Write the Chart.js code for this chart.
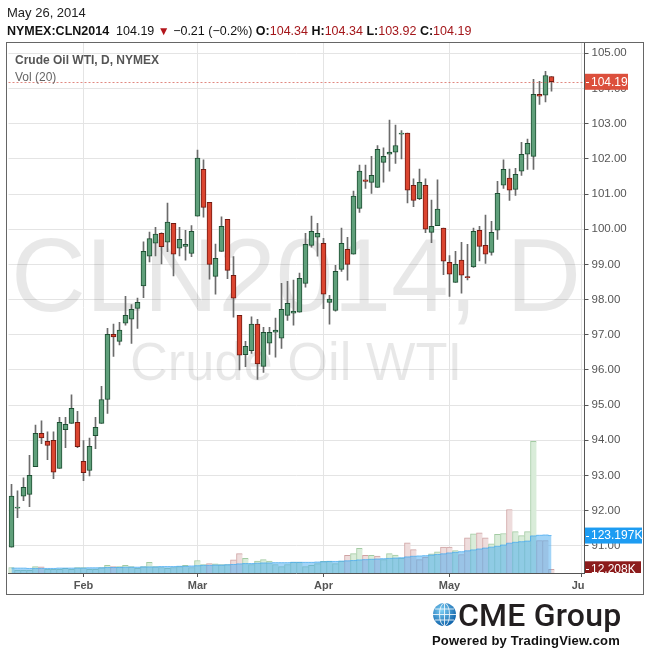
<!DOCTYPE html>
<html>
<head>
<meta charset="utf-8">
<script src="https://cdn.jsdelivr.net/npm/chart.js@4.4.0/dist/chart.umd.min.js"></script>
<style>
  body { margin: 0; background: #fff; font-family: "Liberation Sans", Arial, sans-serif; }
  #wrap { position: relative; width: 650px; height: 652px; overflow: hidden; }
  #chart { position: absolute; left: 0; top: 0; }
  .txt { position: absolute; white-space: nowrap; line-height: 1; }
  #date { left: 7px; top: 6px; font-size: 13px; color: #222; }
  #quote { left: 7px; top: 25px; font-size: 12.5px; color: #111; }
  #quote b { font-weight: bold; }
  #quote .v { color: #a4161a; }
  #quote .dn { color: #b3151b; font-size: 12px; }
  #cme { left: 458px; top: 599px; font-family: Roboto, "Liberation Sans", sans-serif; font-weight: 500; font-size: 32px; color: #231f20; letter-spacing: 0.2px; }
  #powered { left: 432px; top: 634px; font-size: 13px; font-weight: bold; color: #111; letter-spacing: 0.2px; }
  #globe { position: absolute; left: 432px; top: 602px; }
</style>
</head>
<body>
<div id="wrap">
  <canvas id="chart" width="650" height="652"></canvas>
  <div id="date" class="txt">May 26, 2014</div>
  <div id="quote" class="txt"></div>
  <svg id="globe" width="25" height="25" viewBox="0 0 25 25">
    <defs>
      <radialGradient id="gl" cx="38%" cy="32%" r="72%">
        <stop offset="0" stop-color="#7fd0f5"/>
        <stop offset="1" stop-color="#0a5fa8"/>
      </radialGradient>
    </defs>
    <circle cx="12.5" cy="12.5" r="11.5" fill="url(#gl)"/>
    <g stroke="#fff" stroke-width="0.9" fill="none" opacity="0.9">
      <ellipse cx="12.5" cy="12.5" rx="5" ry="11.3"/>
      <line x1="12.5" y1="1" x2="12.5" y2="24"/>
      <line x1="1" y1="12.5" x2="24" y2="12.5"/>
      <line x1="3" y1="7" x2="22" y2="7"/>
      <line x1="3" y1="18" x2="22" y2="18"/>
    </g>
  </svg>
  <div id="cme" class="txt">CME Group</div>
  <div id="powered" class="txt">Powered by TradingView.com</div>
</div>
<script>
// trading days shown on the axis (last five slots are empty future days)
const days = [
  '2014-01-15','2014-01-16','2014-01-17','2014-01-21','2014-01-22','2014-01-23','2014-01-24','2014-01-27','2014-01-28','2014-01-29','2014-01-30','2014-01-31',
  '2014-02-03','2014-02-04','2014-02-05','2014-02-06','2014-02-07','2014-02-10','2014-02-11','2014-02-12','2014-02-13','2014-02-14','2014-02-18','2014-02-19','2014-02-20','2014-02-21','2014-02-24','2014-02-25','2014-02-26','2014-02-27','2014-02-28',
  '2014-03-03','2014-03-04','2014-03-05','2014-03-06','2014-03-07','2014-03-10','2014-03-11','2014-03-12','2014-03-13','2014-03-14','2014-03-17','2014-03-18','2014-03-19','2014-03-20','2014-03-21','2014-03-24','2014-03-25','2014-03-26','2014-03-27','2014-03-28','2014-03-31',
  '2014-04-01','2014-04-02','2014-04-03','2014-04-04','2014-04-07','2014-04-08','2014-04-09','2014-04-10','2014-04-11','2014-04-14','2014-04-15','2014-04-16','2014-04-17','2014-04-21','2014-04-22','2014-04-23','2014-04-24','2014-04-25','2014-04-28','2014-04-29','2014-04-30',
  '2014-05-01','2014-05-02','2014-05-05','2014-05-06','2014-05-07','2014-05-08','2014-05-09','2014-05-12','2014-05-13','2014-05-14','2014-05-15','2014-05-16','2014-05-19','2014-05-20','2014-05-21','2014-05-22','2014-05-23','2014-05-26',
  '2014-05-27','2014-05-28','2014-05-29','2014-05-30','2014-06-02'
];
const monthTicks = { '2014-02-03': 'Feb', '2014-03-03': 'Mar', '2014-04-01': 'Apr', '2014-05-01': 'May', '2014-06-02': 'Jun' };

const opens = [
  90.96, 92.07, 92.41, 92.46, 93.25, 94.20, 93.97, 94.00, 93.20, 94.30,
  94.48, 94.51, 93.40, 93.14, 94.13, 94.48, 95.16, 97.01, 96.81, 97.33,
  97.44, 97.75, 98.39, 99.23, 99.60, 99.88, 99.63, 100.17, 99.46, 99.51,
  99.31, 100.37, 101.70, 100.76, 98.66, 99.37, 100.28, 98.69, 97.55, 96.43,
  96.55, 97.30, 96.10, 96.76, 97.07, 96.90, 97.55, 97.61, 97.64, 98.46,
  99.54, 99.77, 99.60, 97.92, 97.69, 98.86, 99.43, 99.29, 100.59, 101.40,
  101.33, 101.19, 101.90, 102.13, 102.19, 102.70, 102.73, 101.25, 100.87, 101.25,
  99.91, 100.10, 100.03, 99.06, 98.49, 99.12, 98.65, 98.93, 99.97, 99.54,
  99.34, 99.97, 101.25, 101.45, 101.13, 101.65, 102.13, 102.07, 103.83, 103.81,
  104.34
];
const highs = [
  92.75, 92.56, 92.93, 93.57, 94.43, 94.55, 94.24, 94.24, 94.65, 94.65,
  95.29, 94.82, 93.99, 94.06, 94.65, 95.53, 97.18, 97.30, 97.35, 98.09,
  97.86, 98.04, 99.64, 99.92, 100.05, 99.90, 100.74, 100.17, 100.05, 99.97,
  100.10, 102.25, 101.97, 100.76, 99.58, 100.35, 100.28, 99.22, 97.55, 96.81,
  97.51, 97.44, 97.21, 97.21, 97.47, 98.46, 98.52, 98.55, 98.75, 99.88,
  100.37, 100.17, 99.74, 98.12, 98.97, 100.03, 99.77, 101.08, 101.82, 101.82,
  102.07, 102.38, 102.31, 103.10, 102.96, 102.80, 102.73, 101.43, 101.71, 101.43,
  100.83, 101.40, 100.03, 99.25, 99.37, 99.63, 99.57, 100.03, 100.08, 100.40,
  100.22, 101.36, 101.97, 101.71, 101.73, 102.47, 102.56, 104.26, 104.20, 104.49,
  104.34
];
const lows = [
  90.96, 91.80, 92.28, 92.11, 93.25, 93.90, 93.45, 92.91, 93.20, 93.79,
  94.48, 93.79, 92.85, 92.99, 93.76, 94.48, 94.76, 96.38, 96.71, 97.27,
  96.75, 97.18, 98.05, 99.07, 99.24, 99.01, 99.36, 98.67, 99.24, 99.12,
  99.22, 100.37, 100.34, 98.58, 98.15, 99.37, 98.59, 97.50, 96.00, 96.09,
  96.47, 95.73, 95.93, 96.44, 96.36, 96.61, 97.41, 97.27, 97.64, 98.35,
  99.49, 99.23, 97.74, 97.30, 97.67, 98.80, 98.55, 99.29, 100.48, 101.16,
  101.02, 101.19, 101.34, 101.65, 101.87, 102.00, 100.75, 100.64, 100.84, 99.90,
  99.62, 100.10, 98.71, 98.09, 98.49, 98.18, 98.56, 98.91, 99.10, 99.03,
  99.26, 99.71, 101.16, 100.82, 100.96, 101.53, 101.70, 101.70, 103.55, 103.62,
  103.92
];
const closes = [
  92.41, 92.10, 92.66, 93.00, 94.20, 94.07, 93.85, 93.09, 94.51, 94.45,
  94.91, 93.82, 93.08, 93.83, 94.37, 95.16, 97.01, 96.94, 97.13, 97.55,
  97.72, 97.92, 99.37, 99.73, 99.86, 99.50, 100.20, 99.29, 99.71, 99.57,
  99.94, 102.02, 100.62, 99.00, 99.17, 100.08, 98.83, 98.04, 96.42, 96.67,
  97.30, 96.17, 97.07, 97.07, 97.13, 97.72, 97.89, 97.67, 98.60, 99.57,
  99.94, 99.88, 98.15, 98.01, 98.80, 99.60, 99.00, 100.94, 101.65, 101.36,
  101.53, 102.27, 102.07, 102.19, 102.38, 102.73, 101.11, 100.82, 101.33, 100.00,
  100.08, 100.57, 99.09, 98.72, 99.00, 98.69, 98.62, 99.94, 99.51, 99.29,
  99.91, 101.02, 101.70, 101.11, 101.56, 102.13, 102.44, 103.83, 103.78, 104.37,
  104.19
];

// volume in thousands of contracts, and its 20-day average as drawn
const volumes = [
  18, 9, 9, 9, 21, 20, 12, 12, 12, 15,
  12, 18, 18, 12, 12, 18, 25, 21, 21, 25,
  21, 15, 21, 35, 21, 18, 15, 18, 21, 25,
  18, 41, 28, 31, 30, 28, 28, 43, 64, 48,
  28, 39, 44, 39, 28, 21, 28, 36, 36, 21,
  25, 31, 38, 39, 31, 39, 58, 64, 81, 58,
  58, 56, 44, 64, 59, 49, 99, 77, 44, 52,
  63, 70, 85, 85, 74, 61, 116, 129, 132, 116,
  96, 127, 130, 209, 136, 123, 136, 433, 107, 107,
  12.208
];
const volumeMA = [
  16, 16, 16, 15, 15, 15, 15, 15, 16, 16,
  16, 16, 16, 17, 17, 17, 18, 18, 18, 19,
  19, 19, 20, 20, 20, 21, 21, 21, 22, 22,
  23, 24, 25, 25, 26, 26, 27, 28, 30, 31,
  31, 32, 33, 33, 34, 34, 34, 35, 35, 35,
  35, 36, 37, 38, 38, 39, 40, 41, 43, 44,
  45, 46, 47, 48, 49, 50, 53, 55, 56, 57,
  59, 61, 63, 66, 68, 70, 73, 76, 79, 82,
  85, 88, 92, 98, 101, 103, 105, 122, 124, 125,
  123.197
];
// days whose volume bar is drawn in red
const volDownDays = [5, 17, 33, 37, 38, 56, 59, 61, 66, 67, 68, 69, 72, 73, 75, 76, 78, 79, 83, 88, 89, 90];

const priceTicks = [91, 92, 93, 94, 95, 96, 97, 98, 99, 100, 101, 102, 103, 104, 105];
const watermark = ['CLN2014, D', 'Crude Oil WTI'];

const last = closes.length - 1;
document.getElementById('quote').innerHTML =
  '<b>NYMEX:CLN2014</b>&nbsp; ' + closes[last].toFixed(2) +
  ' <span class="dn">&#9660;</span> &minus;0.21 (&minus;0.2%) ' +
  '<b>O:</b><span class="v">' + opens[last].toFixed(2) + '</span> ' +
  '<b>H:</b><span class="v">' + highs[last].toFixed(2) + '</span> ' +
  '<b>L:</b><span class="v">' + lows[last].toFixed(2) + '</span> ' +
  '<b>C:</b><span class="v">' + closes[last].toFixed(2) + '</span>';

const FONT = '"Liberation Sans", Arial, sans-serif';
Chart.defaults.font.family = FONT;

const isUp = opens.map((o, i) => closes[i] >= o);
const bodies = opens.map((o, i) => [o, closes[i]]);
const wicks = lows.map((l, i) => [l, highs[i]]);
const volUp = volumes.map((v, i) => !volDownDays.includes(i));

function box(ctx, x, y, w, h, bg, text) {
  ctx.fillStyle = bg;
  ctx.fillRect(x, y - h / 2, w, h);
  ctx.strokeStyle = '#fff';
  ctx.lineWidth = 1;
  ctx.beginPath();
  ctx.moveTo(x + 1, Math.round(y) + 0.5);
  ctx.lineTo(x + 4, Math.round(y) + 0.5);
  ctx.stroke();
  ctx.fillStyle = '#fff';
  ctx.font = '12px ' + FONT;
  ctx.textAlign = 'left';
  ctx.textBaseline = 'middle';
  ctx.fillText(text, x + 6, y + 0.5);
}

const overlay = {
  id: 'overlay',
  beforeDatasetsDraw(chart) {
    const { ctx, chartArea: a } = chart;
    ctx.save();
    ctx.beginPath();
    ctx.rect(a.left, a.top, a.right - a.left, a.bottom - a.top);
    ctx.clip();
    ctx.fillStyle = 'rgba(0,0,0,0.09)';
    ctx.textAlign = 'center';
    ctx.textBaseline = 'alphabetic';
    ctx.font = '104px ' + FONT;
    ctx.fillText(watermark[0], 296, 311, 570);
    ctx.font = '54px ' + FONT;
    ctx.fillText(watermark[1], 296, 380, 332);
    ctx.restore();
  },
  afterDraw(chart) {
    const { ctx, chartArea: a } = chart;
    const y = chart.scales.y, vol = chart.scales.vol;
    ctx.save();
    // last price dashed line
    const py = Math.round(y.getPixelForValue(closes[last])) + 0.5;
    ctx.strokeStyle = 'rgba(214,96,86,0.75)';
    ctx.setLineDash([2, 2]);
    ctx.lineWidth = 1;
    ctx.beginPath();
    ctx.moveTo(a.left, py);
    ctx.lineTo(a.right, py);
    ctx.stroke();
    ctx.setLineDash([]);

    // pane legend
    ctx.textAlign = 'left';
    ctx.textBaseline = 'middle';
    ctx.fillStyle = '#555';
    ctx.font = 'bold 12px ' + FONT;
    ctx.fillText('Crude Oil WTI, D, NYMEX', 15, 61);
    ctx.fillStyle = '#666';
    ctx.font = '12px ' + FONT;
    ctx.fillText('Vol (20)', 15, 78);

    // cover the part of the x axis under the price scale
    ctx.fillStyle = '#fff';
    ctx.fillRect(a.right + 0.5, a.bottom + 1, 60, 20);

    // value labels on the price scale
    box(ctx, a.right + 0.5, y.getPixelForValue(closes[last]), 43, 16, '#dc4f3c', closes[last].toFixed(2));
    box(ctx, a.right + 0.5, vol.getPixelForValue(volumeMA[last]), 57, 16, '#1d9cf2', volumeMA[last].toFixed(3) + 'K');
    ctx.save();
    ctx.beginPath();
    ctx.rect(a.right, 0, 70, a.bottom);
    ctx.clip();
    box(ctx, a.right + 0.5, vol.getPixelForValue(volumes[last]), 56, 16, '#8c1c1c', volumes[last].toFixed(3) + 'K');
    ctx.restore();

    // outer frame
    ctx.strokeStyle = '#666';
    ctx.lineWidth = 1;
    ctx.strokeRect(6.5, 42.5, 637, 552);
    ctx.restore();
  }
};

new Chart(document.getElementById('chart'), {
  type: 'bar',
  data: {
    labels: days,
    datasets: [
      {
        type: 'line',
        data: volumeMA,
        yAxisID: 'vol',
        stepped: 'middle',
        fill: 'origin',
        backgroundColor: 'rgba(70,170,240,0.5)',
        borderColor: 'rgba(70,170,240,0.75)',
        borderWidth: 1,
        pointRadius: 0,
        order: 3
      },
      {
        data: volumes,
        yAxisID: 'vol',
        backgroundColor: volUp.map(u => u ? '#d9ecd9' : '#eedcdc'),
        borderColor: volUp.map(u => u ? '#a3cba3' : '#cfa3a3'),
        borderWidth: { top: 1, left: 1, right: 0, bottom: 0 },
        borderSkipped: false,
        barPercentage: 1,
        categoryPercentage: 1,
        grouped: false,
        order: 4
      },
      {
        data: wicks,
        yAxisID: 'y',
        backgroundColor: '#6b6b6b',
        barThickness: 1,
        grouped: false,
        order: 2
      },
      {
        data: bodies,
        yAxisID: 'y',
        backgroundColor: isUp.map(u => u ? '#5f9f7a' : '#db4530'),
        borderColor: isUp.map(u => u ? '#1e4f33' : '#731b12'),
        borderWidth: 1,
        borderSkipped: false,
        barThickness: 5,
        grouped: false,
        order: 1
      }
    ]
  },
  options: {
    responsive: false,
    animation: false,
    events: [],
    layout: { padding: { left: 8.5, top: 42, right: 0, bottom: 0 } },
    plugins: { legend: { display: false }, tooltip: { enabled: false } },
    scales: {
      x: {
        offset: true,
        grid: {
          offset: false,
          color: c => monthTicks[days[c.index]] ? '#e4e4e4' : 'rgba(0,0,0,0)',
          tickColor: c => monthTicks[days[c.index]] ? '#555' : 'rgba(0,0,0,0)',
          tickLength: 4
        },
        border: { color: '#555' },
        ticks: {
          autoSkip: false,
          maxRotation: 0,
          minRotation: 0,
          padding: 2,
          color: '#555',
          font: { size: 11, weight: 'bold' },
          callback: (v, i) => monthTicks[days[i]] || ''
        },
        afterFit: s => { s.height = 79; }
      },
      y: {
        position: 'right',
        min: 90.227,
        max: 105.321,
        grid: { color: '#e4e4e4', tickColor: '#555', tickLength: 4 },
        border: { color: '#555' },
        ticks: {
          padding: 3,
          color: '#555',
          font: { size: 11.5 },
          callback: v => v.toFixed(2)
        },
        afterBuildTicks: s => { s.ticks = priceTicks.map(v => ({ value: v })); },
        afterFit: s => { s.width = 65.5; }
      },
      vol: {
        display: false,
        min: 0,
        max: 1747
      }
    }
  },
  plugins: [overlay]
});
</script>
</body>
</html>
